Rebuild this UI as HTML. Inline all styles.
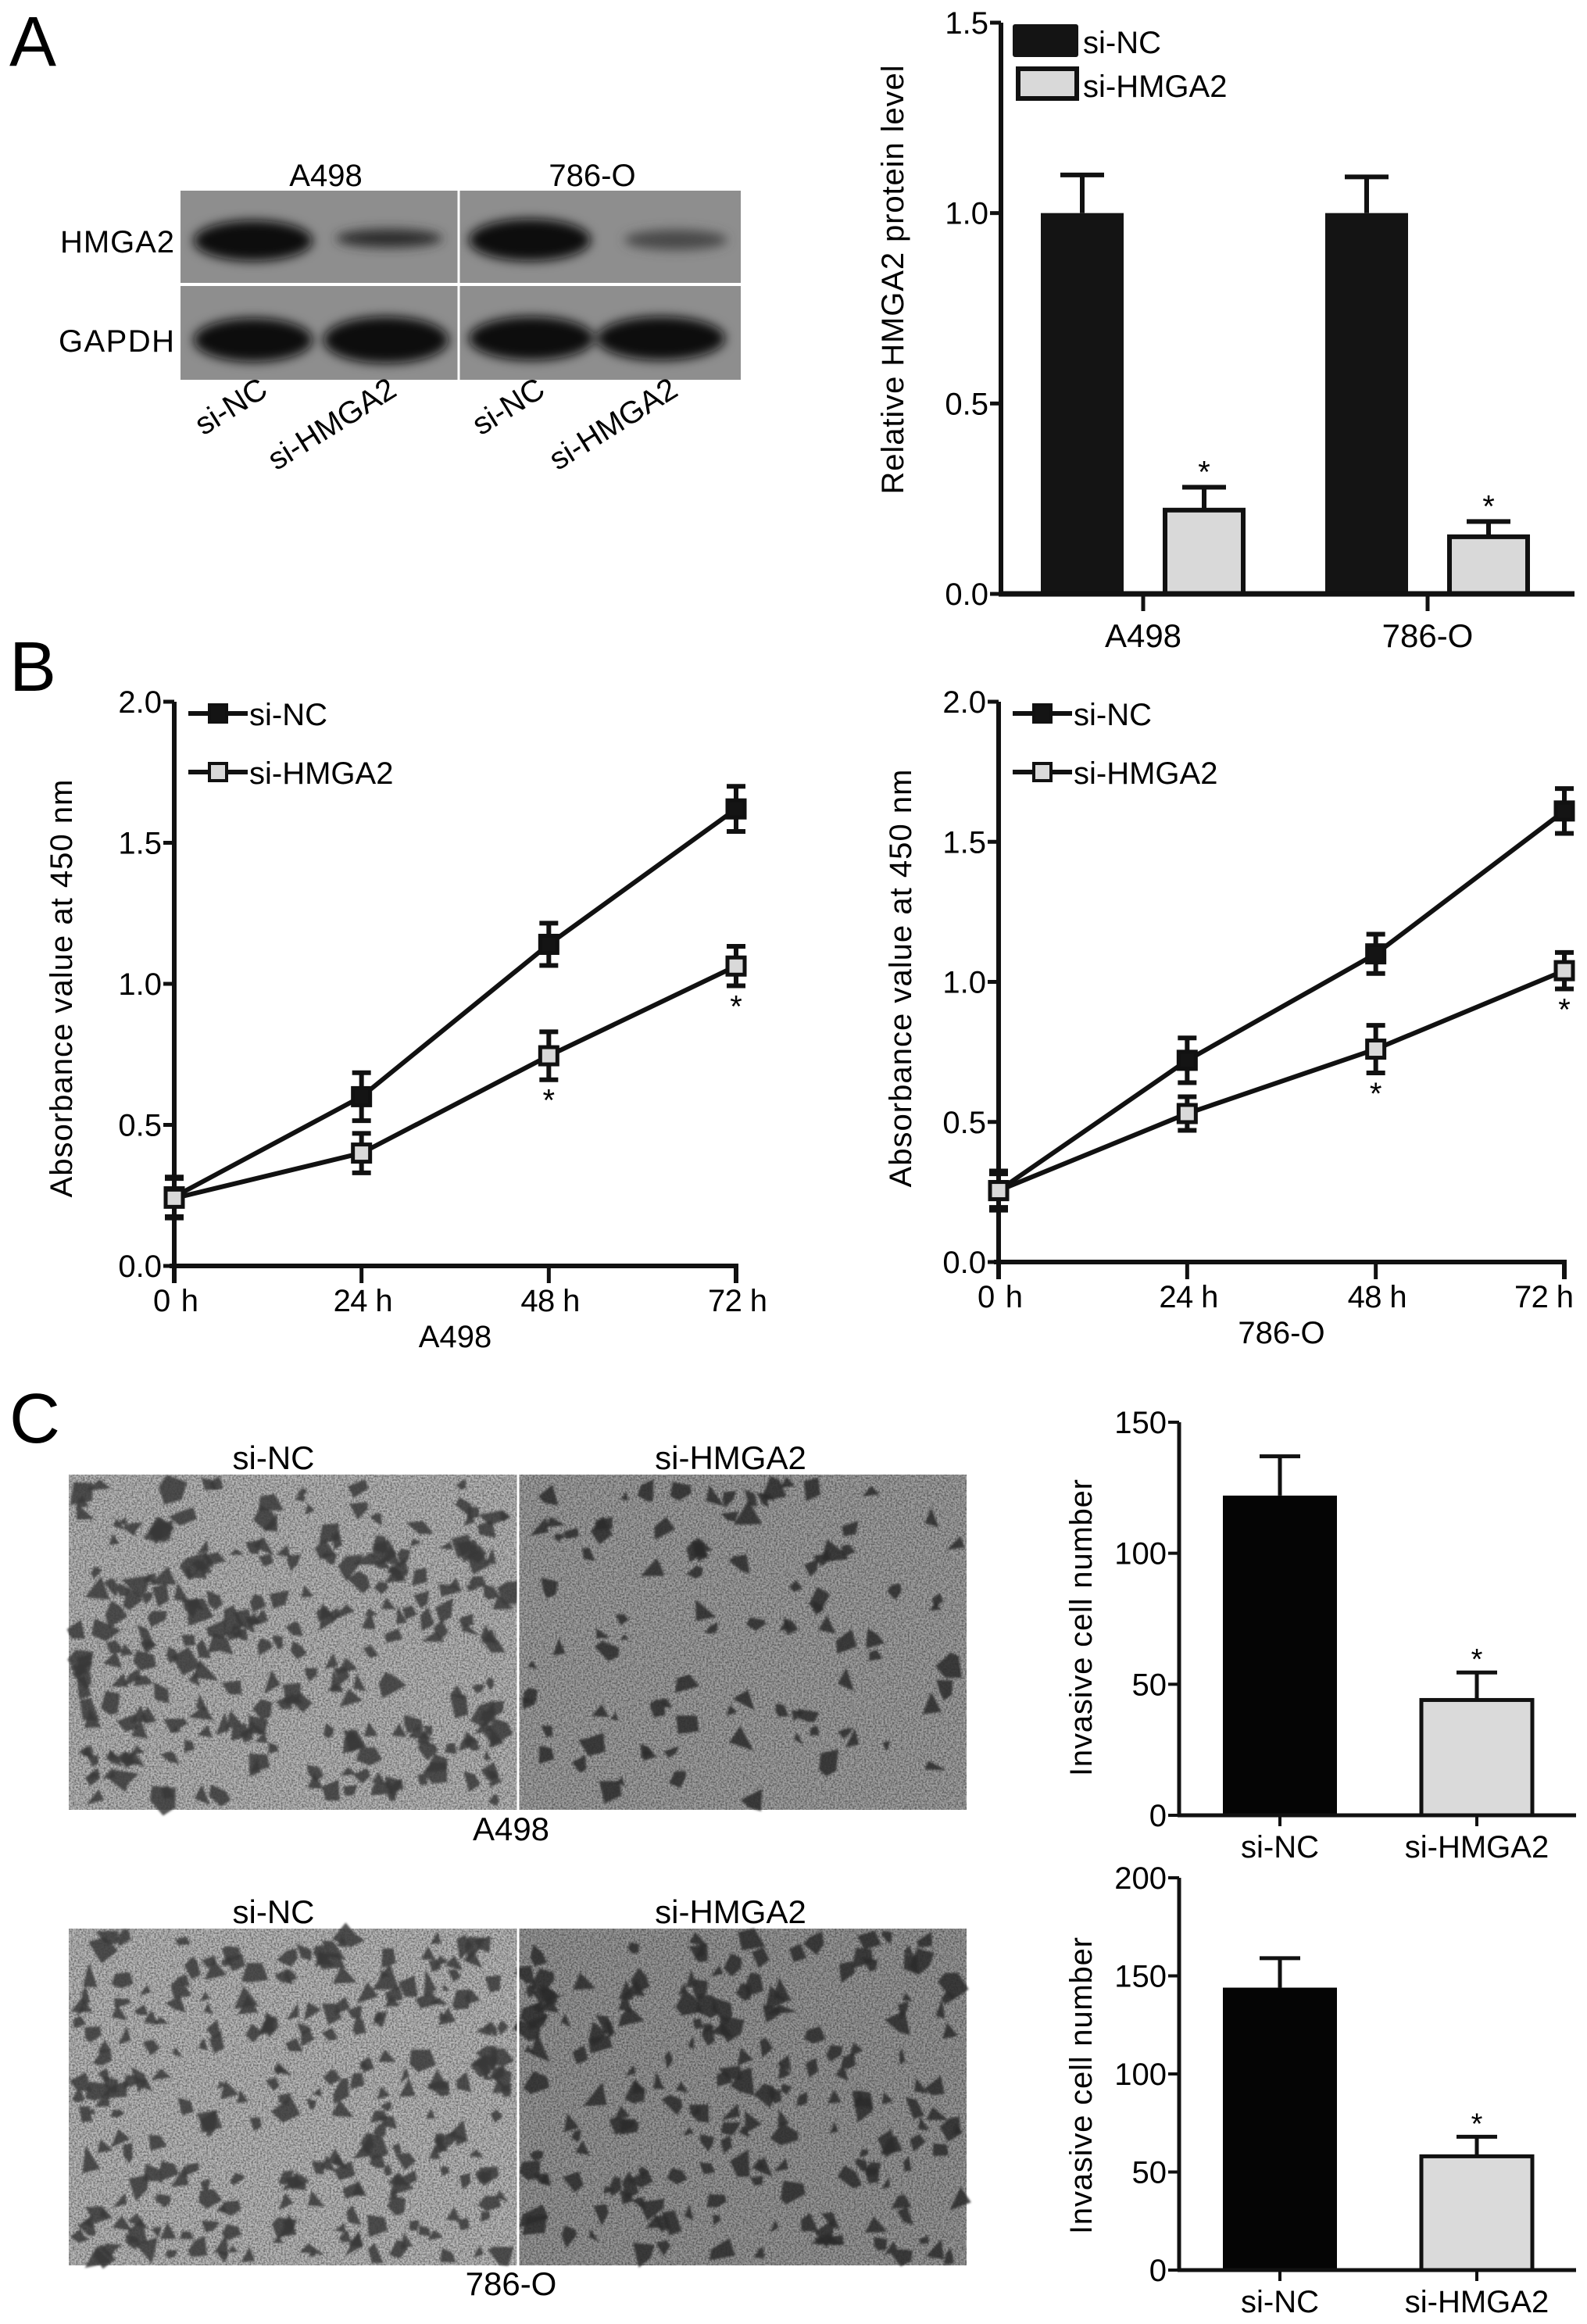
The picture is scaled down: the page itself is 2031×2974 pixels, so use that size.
<!DOCTYPE html>
<html><head><meta charset="utf-8"><style>
html,body{margin:0;padding:0;background:#fff;}
svg{display:block;font-family:"Liberation Sans",Arial,sans-serif;}
</style></head><body>
<svg id="fig" xmlns="http://www.w3.org/2000/svg" width="2031" height="2974" viewBox="0 0 2031 2974">
<defs>
<filter id="blur6" x="-30%" y="-30%" width="160%" height="160%"><feGaussianBlur stdDeviation="7"/></filter>
<filter id="grain" x="0" y="0" width="100%" height="100%">
<feTurbulence type="fractalNoise" baseFrequency="0.45" numOctaves="2" seed="3"/>
<feColorMatrix type="matrix" values="0 0 0 0 0 0 0 0 0 0 0 0 0 0 0 1.6 0 0 0 -0.55"/>
</filter>
<filter id="soft"><feGaussianBlur stdDeviation="1.2"/></filter>
</defs>
<text x="12" y="84" font-size="90">A</text>
<text x="12" y="884" font-size="90">B</text>
<text x="12" y="1846" font-size="90">C</text>
<g id="blot">
<rect x="231" y="244" width="717" height="242" fill="#8e8e8e"/>
<g filter="url(#blur6)">
<ellipse cx="324" cy="308" rx="76" ry="26" fill="#111"/>
<ellipse cx="498" cy="305" rx="68" ry="12" fill="#2e2e2e"/>
<ellipse cx="678" cy="307" rx="78" ry="27" fill="#111"/>
<ellipse cx="865" cy="307" rx="66" ry="13" fill="#4a4a4a"/>
<ellipse cx="324" cy="435" rx="76" ry="28" fill="#0c0c0c"/>
<ellipse cx="494" cy="435" rx="80" ry="30" fill="#0c0c0c"/>
<ellipse cx="680" cy="433" rx="80" ry="28" fill="#0c0c0c"/>
<ellipse cx="846" cy="433" rx="82" ry="28" fill="#0c0c0c"/>
</g>
<line x1="587" y1="244" x2="587" y2="486" stroke="#fff" stroke-width="3"/>
<line x1="231" y1="364" x2="948" y2="364" stroke="#fff" stroke-width="4"/>
<text x="417" y="238" font-size="40" text-anchor="middle">A498</text>
<text x="758" y="238" font-size="40" text-anchor="middle">786-O</text>
<text x="223" y="323" font-size="40" text-anchor="end" textLength="146">HMGA2</text>
<text x="223" y="450" font-size="40" text-anchor="end" textLength="148">GAPDH</text>
<text transform="translate(345,505) rotate(-32)" font-size="40" text-anchor="end">si-NC</text>
<text transform="translate(510,505) rotate(-32)" font-size="40" text-anchor="end">si-HMGA2</text>
<text transform="translate(700,505) rotate(-32)" font-size="40" text-anchor="end">si-NC</text>
<text transform="translate(870,505) rotate(-32)" font-size="40" text-anchor="end">si-HMGA2</text>
</g>
<g id="micro"></g>
<g id="chartA"></g>
<g id="chartB1"></g>
<g id="chartB2"></g>
<g id="chartC1"></g>
<g id="chartC2"></g>
</svg>
<script>
// ---- Panel A data ----
const aCategories = ['A498', '786-O'];
const aNC = [1.0, 1.0];
const aNCErr = [0.10, 0.095];
const aKD = [0.22, 0.15];
const aKDErr = [0.06, 0.04];
const aTicks = [0.0, 0.5, 1.0, 1.5];
const aTickLabels = ['0.0', '0.5', '1.0', '1.5'];
// ---- Panel B data ----
const bHours = ['0 h', '24 h', '48 h', '72 h'];
const bA498NC = [0.245, 0.60, 1.14, 1.62];
const bA498NCErr = [0.07, 0.085, 0.075, 0.08];
const bA498KD = [0.24, 0.40, 0.745, 1.063];
const bA498KDErr = [0.07, 0.07, 0.085, 0.07];
const b786NC = [0.255, 0.72, 1.10, 1.61];
const b786NCErr = [0.07, 0.08, 0.07, 0.08];
const b786KD = [0.255, 0.53, 0.76, 1.04];
const b786KDErr = [0.06, 0.06, 0.085, 0.065];
const bStars = [false, false, true, true];
const bTicks = [0.0, 0.5, 1.0, 1.5, 2.0];
const bTickLabels = ['0.0', '0.5', '1.0', '1.5', '2.0'];
// ---- Panel C data ----
const cCategories = ['si-NC', 'si-HMGA2'];
const cA498 = [122, 44];
const cA498Err = [15, 10.5];
const c786 = [144, 58];
const c786Err = [15, 10];
const cA498Ticks = [0, 50, 100, 150];
const c786Ticks = [0, 50, 100, 150, 200];

const NS = 'http://www.w3.org/2000/svg';
function mk(parent, tag, attrs, name) {
  const el = document.createElementNS(NS, tag);
  for (const k in attrs) el.setAttribute(k, attrs[k]);
  
  
  parent.appendChild(el);
  return el;
}
function txt(parent, x, y, s, size, anchor, name, extra) {
  const el = mk(parent, 'text', Object.assign({x: x, y: y, 'font-size': size, 'text-anchor': anchor || 'start'}, extra || {}), name);
  el.textContent = s;
  return el;
}

// ---------- Chart A ----------
(function () {
  const g = document.getElementById('chartA');
  const x0 = 1281, x1 = 2015, yTop = 29, yBot = 760, vmax = 1.5;
  const y = v => yBot - (v / vmax) * (yBot - yTop);
  const centers = [1463, 1827];
  const bw = 106, off = 78;
  aCategories.forEach((c, i) => {
    const xc = centers[i];
    mk(g, 'line', {x1: xc - off, y1: y(aNC[i]), x2: xc - off, y2: y(aNC[i] + aNCErr[i]), stroke: '#111', 'stroke-width': 6}, 'error-bar-nc-' + c);
    mk(g, 'line', {x1: xc - off - 28, y1: y(aNC[i] + aNCErr[i]), x2: xc - off + 28, y2: y(aNC[i] + aNCErr[i]), stroke: '#111', 'stroke-width': 6}, 'error-cap-nc-' + c);
    mk(g, 'rect', {x: xc - off - bw / 2, y: y(aNC[i]), width: bw, height: yBot - y(aNC[i]), fill: '#141414'}, 'bar-nc-' + c);
    mk(g, 'line', {x1: xc + off, y1: y(aKD[i]), x2: xc + off, y2: y(aKD[i] + aKDErr[i]), stroke: '#111', 'stroke-width': 6}, 'error-bar-kd-' + c);
    mk(g, 'line', {x1: xc + off - 28, y1: y(aKD[i] + aKDErr[i]), x2: xc + off + 28, y2: y(aKD[i] + aKDErr[i]), stroke: '#111', 'stroke-width': 6}, 'error-cap-kd-' + c);
    mk(g, 'rect', {x: xc + off - bw / 2 + 3, y: y(aKD[i]), width: bw - 6, height: yBot - y(aKD[i]), fill: '#d9d9d9', stroke: '#111', 'stroke-width': 6}, 'bar-kd-' + c);
    txt(g, xc + off, y(aKD[i] + aKDErr[i]) - 6, '*', 40, 'middle', 'significance-star-' + c);
    mk(g, 'line', {x1: xc, y1: yBot, x2: xc, y2: yBot + 22, stroke: '#111', 'stroke-width': 5}, 'x-tick-' + c);
    txt(g, xc, yBot + 68, c, 42, 'middle', 'x-label-' + c);
  });
  mk(g, 'line', {x1: x0, y1: yTop, x2: x0, y2: yBot, stroke: '#111', 'stroke-width': 6}, 'y-axis');
  mk(g, 'line', {x1: x0 - 3, y1: yBot, x2: x1, y2: yBot, stroke: '#111', 'stroke-width': 7}, 'x-axis');
  aTicks.forEach((t, i) => {
    mk(g, 'line', {x1: x0 - 14, y1: y(t), x2: x0, y2: y(t), stroke: '#111', 'stroke-width': 5}, 'y-tick');
    txt(g, x0 - 16, y(t) + 14, aTickLabels[i], 40, 'end', 'y-tick-label');
  });
  txt(g, 0, 0, 'Relative HMGA2 protein level', 40, 'middle', 'y-axis-title', {transform: 'translate(1156,358) rotate(-90)', textLength: 549});
  mk(g, 'rect', {x: 1296, y: 31, width: 84, height: 42, rx: 3, fill: '#141414'}, 'legend-swatch-si-nc');
  txt(g, 1386, 68, 'si-NC', 40, 'start', 'legend-label-si-nc');
  mk(g, 'rect', {x: 1303, y: 88, width: 75, height: 38, fill: '#d9d9d9', stroke: '#111', 'stroke-width': 6}, 'legend-swatch-si-hmga2');
  txt(g, 1386, 124, 'si-HMGA2', 40, 'start', 'legend-label-si-hmga2');
})();

// ---------- Chart B ----------
function lineChart(gid, cfg) {
  const g = document.getElementById(gid);
  const y = v => cfg.y0 - (v / 2) * (cfg.y0 - cfg.y2);
  const x = i => cfg.xs + i * (cfg.xe - cfg.xs) / (bHours.length - 1);
  mk(g, 'line', {x1: cfg.xs, y1: cfg.y2, x2: cfg.xs, y2: cfg.y0 + 22, stroke: '#111', 'stroke-width': 6}, 'y-axis');
  mk(g, 'polyline', {points: (cfg.xs - 6) + ',' + cfg.y0 + ' ' + cfg.xe + ',' + cfg.y0 + ' ' + cfg.xe + ',' + (cfg.y0 + 22), fill: 'none', stroke: '#111', 'stroke-width': 6}, 'x-axis');
  bTicks.forEach((t, i) => {
    mk(g, 'line', {x1: cfg.xs - 14, y1: y(t), x2: cfg.xs, y2: y(t), stroke: '#111', 'stroke-width': 5}, 'y-tick');
    txt(g, cfg.xs - 16, y(t) + 14, bTickLabels[i], 40, 'end', 'y-tick-label');
  });
  bHours.forEach((h, i) => {
    mk(g, 'line', {x1: x(i), y1: cfg.y0, x2: x(i), y2: cfg.y0 + 22, stroke: '#111', 'stroke-width': 5}, 'x-tick');
    const cx = Math.min(x(i) + 2, 1976);
    txt(g, cx, cfg.y0 + 58, h, 40, 'middle', 'x-tick-label', {textLength: h.length > 3 ? 76 : 58});
  });
  txt(g, (cfg.xs + cfg.xe) / 2, cfg.y0 + 104, cfg.title, 40, 'middle', 'x-axis-title');
  txt(g, 0, 0, 'Absorbance value at 450 nm', 40, 'middle', 'y-axis-title', {transform: 'translate(' + cfg.ytx + ',' + cfg.yty + ') rotate(-90)', textLength: 535});
  const series = [
    {v: cfg.nc, e: cfg.ncErr, fill: '#141414', name: 'si-nc'},
    {v: cfg.kd, e: cfg.kdErr, fill: '#d9d9d9', name: 'si-hmga2'}
  ];
  series.forEach(s => {
    mk(g, 'polyline', {points: s.v.map((v, i) => x(i) + ',' + y(v)).join(' '), fill: 'none', stroke: '#111', 'stroke-width': 6}, 'line-' + s.name);
  });
  series.forEach(s => {
    s.v.forEach((v, i) => {
      mk(g, 'line', {x1: x(i), y1: y(v - s.e[i]), x2: x(i), y2: y(v + s.e[i]), stroke: '#111', 'stroke-width': 6}, 'error-bar-' + s.name);
      mk(g, 'line', {x1: x(i) - 12, y1: y(v + s.e[i]), x2: x(i) + 12, y2: y(v + s.e[i]), stroke: '#111', 'stroke-width': 6}, 'error-cap-' + s.name);
      mk(g, 'line', {x1: x(i) - 12, y1: y(v - s.e[i]), x2: x(i) + 12, y2: y(v - s.e[i]), stroke: '#111', 'stroke-width': 6}, 'error-cap-' + s.name);
      mk(g, 'rect', {x: x(i) - 11, y: y(v) - 11, width: 22, height: 22, fill: s.fill, stroke: '#111', 'stroke-width': 5}, 'point-' + s.name);
    });
  });
  cfg.kd.forEach((v, i) => {
    if (bStars[i]) txt(g, x(i), y(v - cfg.kdErr[i]) + 40, '*', 40, 'middle', 'significance-star');
  });
  const lx = cfg.xs + 18;
  mk(g, 'line', {x1: lx, y1: cfg.y2 + 15, x2: lx + 76, y2: cfg.y2 + 15, stroke: '#111', 'stroke-width': 6}, 'legend-line-si-nc');
  mk(g, 'rect', {x: lx + 27, y: cfg.y2 + 4, width: 22, height: 22, fill: '#141414', stroke: '#111', 'stroke-width': 4}, 'legend-marker-si-nc');
  txt(g, lx + 78, cfg.y2 + 30, 'si-NC', 40, 'start', 'legend-label-si-nc');
  mk(g, 'line', {x1: lx, y1: cfg.y2 + 90, x2: lx + 76, y2: cfg.y2 + 90, stroke: '#111', 'stroke-width': 6}, 'legend-line-si-hmga2');
  mk(g, 'rect', {x: lx + 27, y: cfg.y2 + 79, width: 22, height: 22, fill: '#d9d9d9', stroke: '#111', 'stroke-width': 4}, 'legend-marker-si-hmga2');
  txt(g, lx + 78, cfg.y2 + 105, 'si-HMGA2', 40, 'start', 'legend-label-si-hmga2');
}
lineChart('chartB1', {xs: 223, xe: 942, y0: 1620, y2: 898, title: 'A498', nc: bA498NC, ncErr: bA498NCErr, kd: bA498KD, kdErr: bA498KDErr, ytx: 92, yty: 1265});
lineChart('chartB2', {xs: 1278, xe: 2002, y0: 1615, y2: 898, title: '786-O', nc: b786NC, ncErr: b786NCErr, kd: b786KD, kdErr: b786KDErr, ytx: 1166, yty: 1252});

// ---------- Chart C ----------
function invChart(gid, cfg) {
  const g = document.getElementById(gid);
  const vmax = cfg.ticks[cfg.ticks.length - 1];
  const y = v => cfg.y0 - (v / vmax) * (cfg.y0 - cfg.yT);
  const x0 = 1509, x1 = 2017, centers = [1638, 1890], bw = 146;
  cCategories.forEach((c, i) => {
    const v = cfg.vals[i], e = cfg.errs[i];
    mk(g, 'line', {x1: centers[i], y1: y(v), x2: centers[i], y2: y(v + e), stroke: '#111', 'stroke-width': 5}, 'error-bar-' + c);
    mk(g, 'line', {x1: centers[i] - 26, y1: y(v + e), x2: centers[i] + 26, y2: y(v + e), stroke: '#111', 'stroke-width': 5}, 'error-cap-' + c);
    if (i === 0) mk(g, 'rect', {x: centers[i] - bw / 2, y: y(v), width: bw, height: cfg.y0 - y(v), fill: '#050505'}, 'bar-' + c);
    else mk(g, 'rect', {x: centers[i] - bw / 2 + 2, y: y(v), width: bw - 4, height: cfg.y0 - y(v), fill: '#dadada', stroke: '#111', 'stroke-width': 5}, 'bar-' + c);
    if (i === 1) txt(g, centers[i], y(v + e) - 4, '*', 38, 'middle', 'significance-star');
    mk(g, 'line', {x1: centers[i], y1: cfg.y0, x2: centers[i], y2: cfg.y0 + 14, stroke: '#111', 'stroke-width': 4}, 'x-tick');
    txt(g, centers[i], cfg.y0 + 54, c, 40, 'middle', 'x-tick-label');
  });
  mk(g, 'line', {x1: x0, y1: cfg.yT, x2: x0, y2: cfg.y0, stroke: '#111', 'stroke-width': 5}, 'y-axis');
  mk(g, 'line', {x1: x0 - 2, y1: cfg.y0, x2: x1, y2: cfg.y0, stroke: '#111', 'stroke-width': 5}, 'x-axis');
  cfg.ticks.forEach(t => {
    mk(g, 'line', {x1: x0 - 14, y1: y(t), x2: x0, y2: y(t), stroke: '#111', 'stroke-width': 4}, 'y-tick');
    txt(g, x0 - 16, y(t) + 14, String(t), 40, 'end', 'y-tick-label');
  });
  txt(g, 0, 0, 'Invasive cell number', 40, 'middle', 'y-axis-title', {transform: 'translate(1397,' + cfg.yty + ') rotate(-90)', textLength: 380});
}
invChart('chartC1', {y0: 2323, yT: 1820, ticks: cA498Ticks, vals: cA498, errs: cA498Err, yty: 2083});
invChart('chartC2', {y0: 2905, yT: 2403, ticks: c786Ticks, vals: c786, errs: c786Err, yty: 2669});

// ---------- Micrographs ----------
(function () {
  const g = document.getElementById('micro');
  let seed = 12345;
  const rnd = () => { seed = (seed * 1103515245 + 12345) % 2147483648; return seed / 2147483648; };
  const panels = [
    {x: 88, y: 1887, w: 575, h: 429, bg: '#b8b8b8', n: 260, cell: '#3a3a3a', name: 'micrograph-a498-si-nc'},
    {x: 663, y: 1887, w: 574, h: 429, bg: '#a0a0a0', n: 95, cell: '#2c2c2c', name: 'micrograph-a498-si-hmga2'},
    {x: 88, y: 2468, w: 575, h: 431, bg: '#bababa', n: 260, cell: '#3a3a3a', name: 'micrograph-786o-si-nc'},
    {x: 663, y: 2468, w: 574, h: 431, bg: '#989898', n: 190, cell: '#2c2c2c', name: 'micrograph-786o-si-hmga2'}
  ];
  panels.forEach(p => {
    mk(g, 'rect', {x: p.x, y: p.y, width: p.w, height: p.h, fill: p.bg}, p.name);
    mk(g, 'rect', {x: p.x, y: p.y, width: p.w, height: p.h, fill: '#000', filter: 'url(#grain)', opacity: 0.6}, p.name + '-texture');
    const cg = mk(g, 'g', {filter: 'url(#soft)'}, p.name + '-cells');
    for (let k = 0; k < p.n; k++) {
      const cx = p.x + 10 + rnd() * (p.w - 20), cy = p.y + 10 + rnd() * (p.h - 20);
      const r = 7 + rnd() * 9;
      const pts = [];
      const m = 3 + Math.floor(rnd() * 3);
      for (let j = 0; j < m; j++) {
        const a = (j / m) * Math.PI * 2 + rnd();
        const rr = r * (0.6 + rnd() * 0.9);
        pts.push((cx + Math.cos(a) * rr).toFixed(1) + ',' + (cy + Math.sin(a) * rr).toFixed(1));
      }
      mk(cg, 'polygon', {points: pts.join(' '), fill: p.cell, opacity: 0.85}, 'cell');
    }
  });
  mk(g, 'line', {x1: 663, y1: 1887, x2: 663, y2: 2316, stroke: '#fff', 'stroke-width': 3}, 'micrograph-divider-top');
  mk(g, 'line', {x1: 663, y1: 2468, x2: 663, y2: 2899, stroke: '#fff', 'stroke-width': 3}, 'micrograph-divider-bottom');
  txt(g, 350, 1880, 'si-NC', 42, 'middle', 'micrograph-label-si-nc-top');
  txt(g, 935, 1880, 'si-HMGA2', 42, 'middle', 'micrograph-label-si-hmga2-top');
  txt(g, 654, 2355, 'A498', 42, 'middle', 'micrograph-label-a498');
  txt(g, 350, 2461, 'si-NC', 42, 'middle', 'micrograph-label-si-nc-bottom');
  txt(g, 935, 2461, 'si-HMGA2', 42, 'middle', 'micrograph-label-si-hmga2-bottom');
  txt(g, 654, 2937, '786-O', 42, 'middle', 'micrograph-label-786o');
})();
</script>
</body></html>
